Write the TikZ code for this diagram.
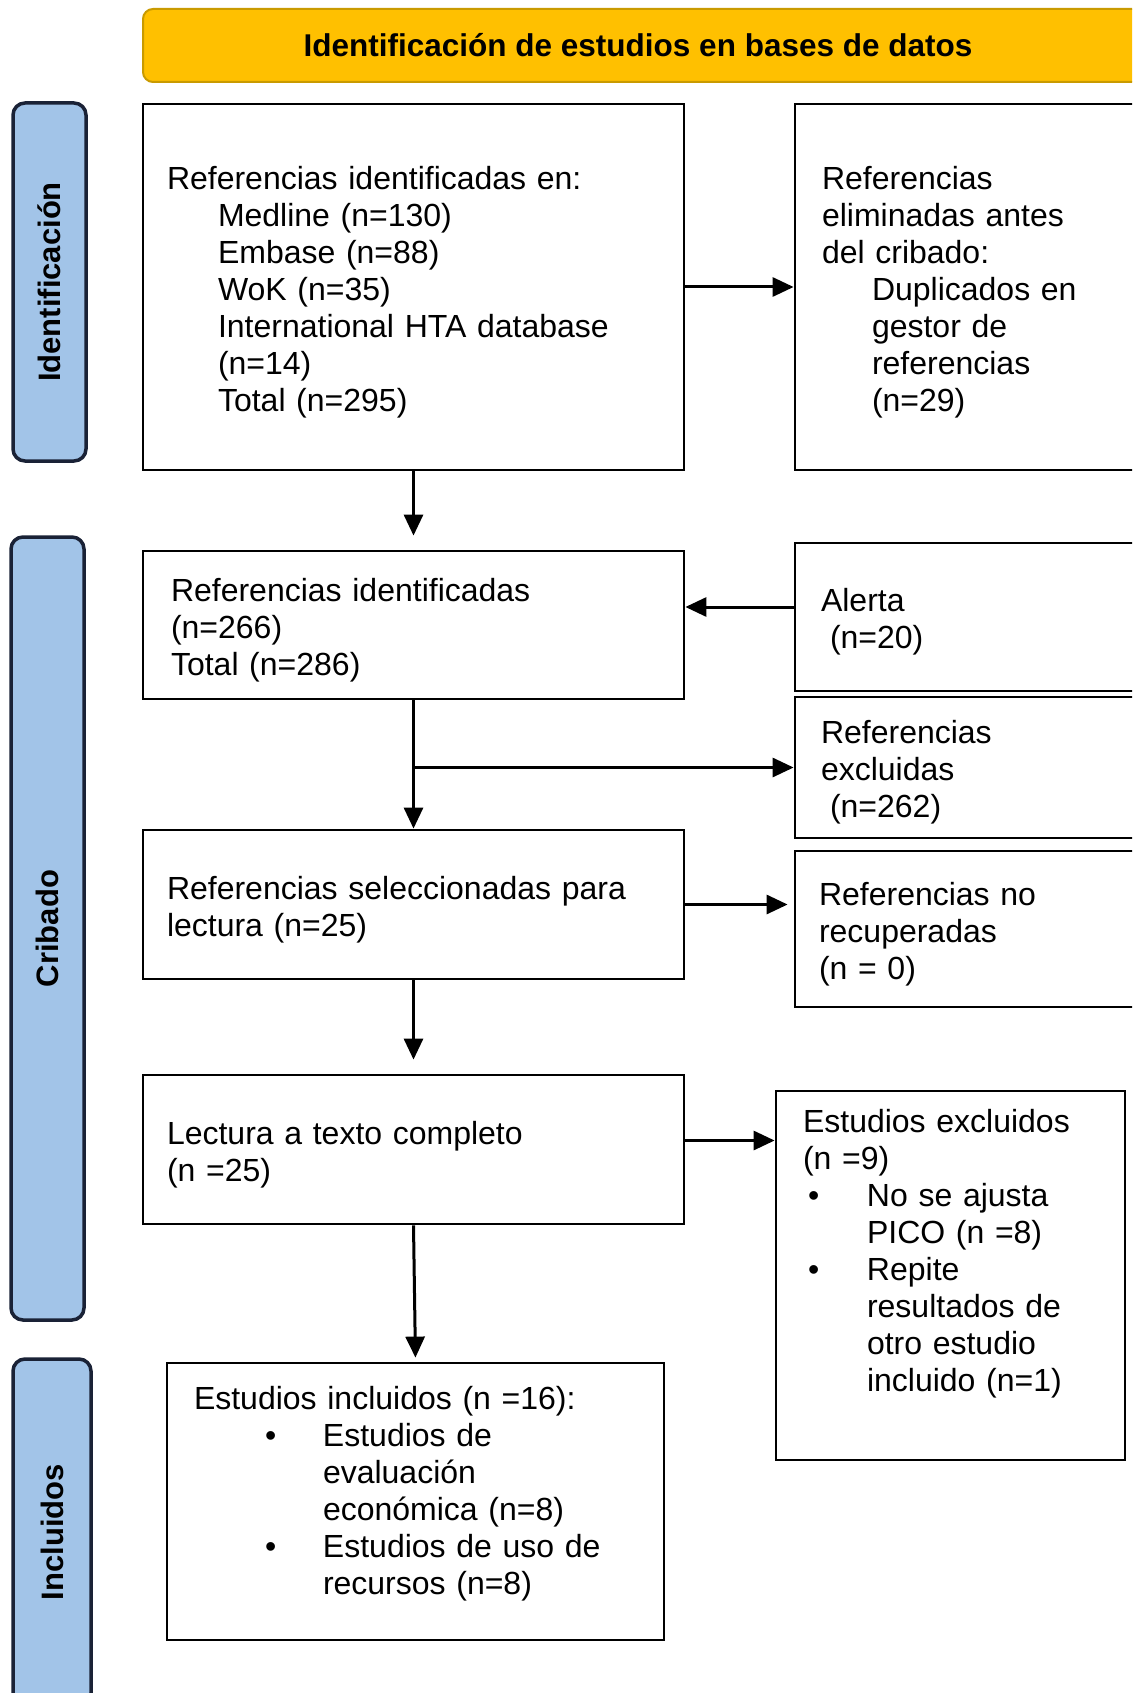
\documentclass[tikz,border=0pt]{standalone}
\usepackage{fontspec}
\setmainfont{Liberation Sans}
\usetikzlibrary{arrows.meta}
\definecolor{gold}{HTML}{FFC000}
\definecolor{goldline}{HTML}{C99A00}
\definecolor{sideblue}{HTML}{A2C4E8}
\definecolor{sideline}{HTML}{1A2236}
\newcommand\topgap{\mbox{}\\[-4pt]}
\begin{document}
\begin{tikzpicture}[x=1pt,y=-1pt,
  font=\fontsize{32}{37}\selectfont,
  box/.style={draw=black, line width=2.8pt, align=left, inner ysep=0pt},
  sidebox/.style={draw=sideline, fill=sideblue, line width=3.5pt, rounded corners=12pt,
    rotate=90, font=\fontsize{31}{36}\selectfont\bfseries, inner sep=0pt},
  arr/.style={line width=3pt, -{Triangle[length=21pt,width=19pt]}}]
\useasboundingbox (0,0) rectangle (1132,1693);
\clip (0,0) rectangle (1132,1693);
\fill[white] (0,0) rectangle (1132,1693);

% header
\node[draw=goldline, fill=gold, line width=2pt, rounded corners=10pt,
  minimum width=1007pt, minimum height=73pt, inner sep=0pt,
  font=\fontsize{31.5}{36}\selectfont\bfseries] (hd) at (646.5,45.5)
  {\hspace*{-17pt}Identificación de estudios en bases de datos};

% side labels
\node[sidebox, minimum width=358pt, minimum height=73pt] (sid) at (49.5,282) {Identificación};
\node[sidebox, minimum width=783pt, minimum height=73pt] (scr) at (47.5,928.5) {Cribado};
\node[sidebox, minimum width=346pt, minimum height=78pt] (sin) at (52,1532) {Incluidos};

% main column
\node[box, text width=493pt, inner xsep=24pt, minimum height=366pt] (b1) at (413.5,287)
  {\topgap Referencias identificadas en:\\
   \hspace*{51pt}Medline (n=130)\\
   \hspace*{51pt}Embase (n=88)\\
   \hspace*{51pt}WoK (n=35)\\
   \hspace*{51pt}International HTA database\\
   \hspace*{51pt}(n=14)\\
   \hspace*{51pt}Total (n=295)};

\node[box, text width=485pt, inner xsep=28pt, minimum height=148pt] (b2) at (413.5,625)
  {\topgap Referencias identificadas\\
   (n=266)\\
   Total (n=286)};

\node[box, text width=493pt, inner xsep=24pt, minimum height=149pt] (b3) at (413.5,904.5)
  {\topgap Referencias seleccionadas para\\
   lectura (n=25)};

\node[box, text width=493pt, inner xsep=24pt, minimum height=149pt] (b4) at (413.5,1149.5)
  {\topgap Lectura a texto completo\\
   (n =25)};

\node[box, text width=443pt, inner xsep=27pt, minimum height=277pt] (b5) at (415.5,1501.5)
  {\topgap Estudios incluidos (n =16):\\
   \hspace*{71pt}\makebox[58pt][l]{•}Estudios de\\
   \hspace*{129pt}evaluación\\
   \hspace*{129pt}económica (n=8)\\
   \hspace*{71pt}\makebox[58pt][l]{•}Estudios de uso de\\
   \hspace*{129pt}recursos (n=8)\\[-5pt]\mbox{}};

% right column
\node[box, text width=306pt, inner xsep=27pt, minimum height=366pt] (r1) at (975,287)
  {\topgap Referencias\\
   eliminadas antes\\
   del cribado:\\
   \hspace*{50pt}Duplicados en\\
   \hspace*{50pt}gestor de\\
   \hspace*{50pt}referencias\\
   \hspace*{50pt}(n=29)};

\node[box, text width=308pt, inner xsep=26pt, minimum height=148pt] (al) at (975,617)
  {\topgap Alerta\\
   \hspace*{9pt}(n=20)};

\node[box, text width=308pt, inner xsep=26pt, minimum height=141pt] (ex) at (975,767.5)
  {\topgap Referencias\\
   excluidas\\
   \hspace*{9pt}(n=262)};

\node[box, text width=312pt, inner xsep=24pt, minimum height=156pt] (nr) at (975,929)
  {\topgap Referencias no\\
   recuperadas\\
   (n = 0)};

\node[box, text width=295pt, inner xsep=27pt, minimum height=369pt] (ee) at (950.5,1275.5)
  {\topgap Estudios excluidos\\
   (n =9)\\
   \hspace*{5pt}\makebox[59pt][l]{•}No se ajusta\\
   \hspace*{64pt}PICO (n =8)\\
   \hspace*{5pt}\makebox[59pt][l]{•}Repite\\
   \hspace*{64pt}resultados de\\
   \hspace*{64pt}otro estudio\\
   \hspace*{64pt}incluido (n=1)\\[23pt]\mbox{}};

% connectors
\draw[arr] (b1.east) -- (r1.west);
\draw[arr, shorten >=14pt] (b1.south) -- (b2.north);
\draw[arr] ([yshift=10pt]al.west) -- ([yshift=10pt]al.west -| b2.east);
\draw[arr] (b2.south) -- (b3.north);
\coordinate (br) at (b2.south |- ex.west);
\draw[arr] (br) -- (ex.west);
\draw[arr] (b3.east) -- ([xshift=-6pt]b3.east -| nr.west);
\draw[arr, shorten >=14pt] (b3.south) -- (b4.north);
\draw[arr] ([yshift=9pt]b4.east) -- ([yshift=9pt]b4.east -| ee.west);
\draw[arr, shorten >=4pt] (b4.south) -- (b5.north);
\end{tikzpicture}
\end{document}
